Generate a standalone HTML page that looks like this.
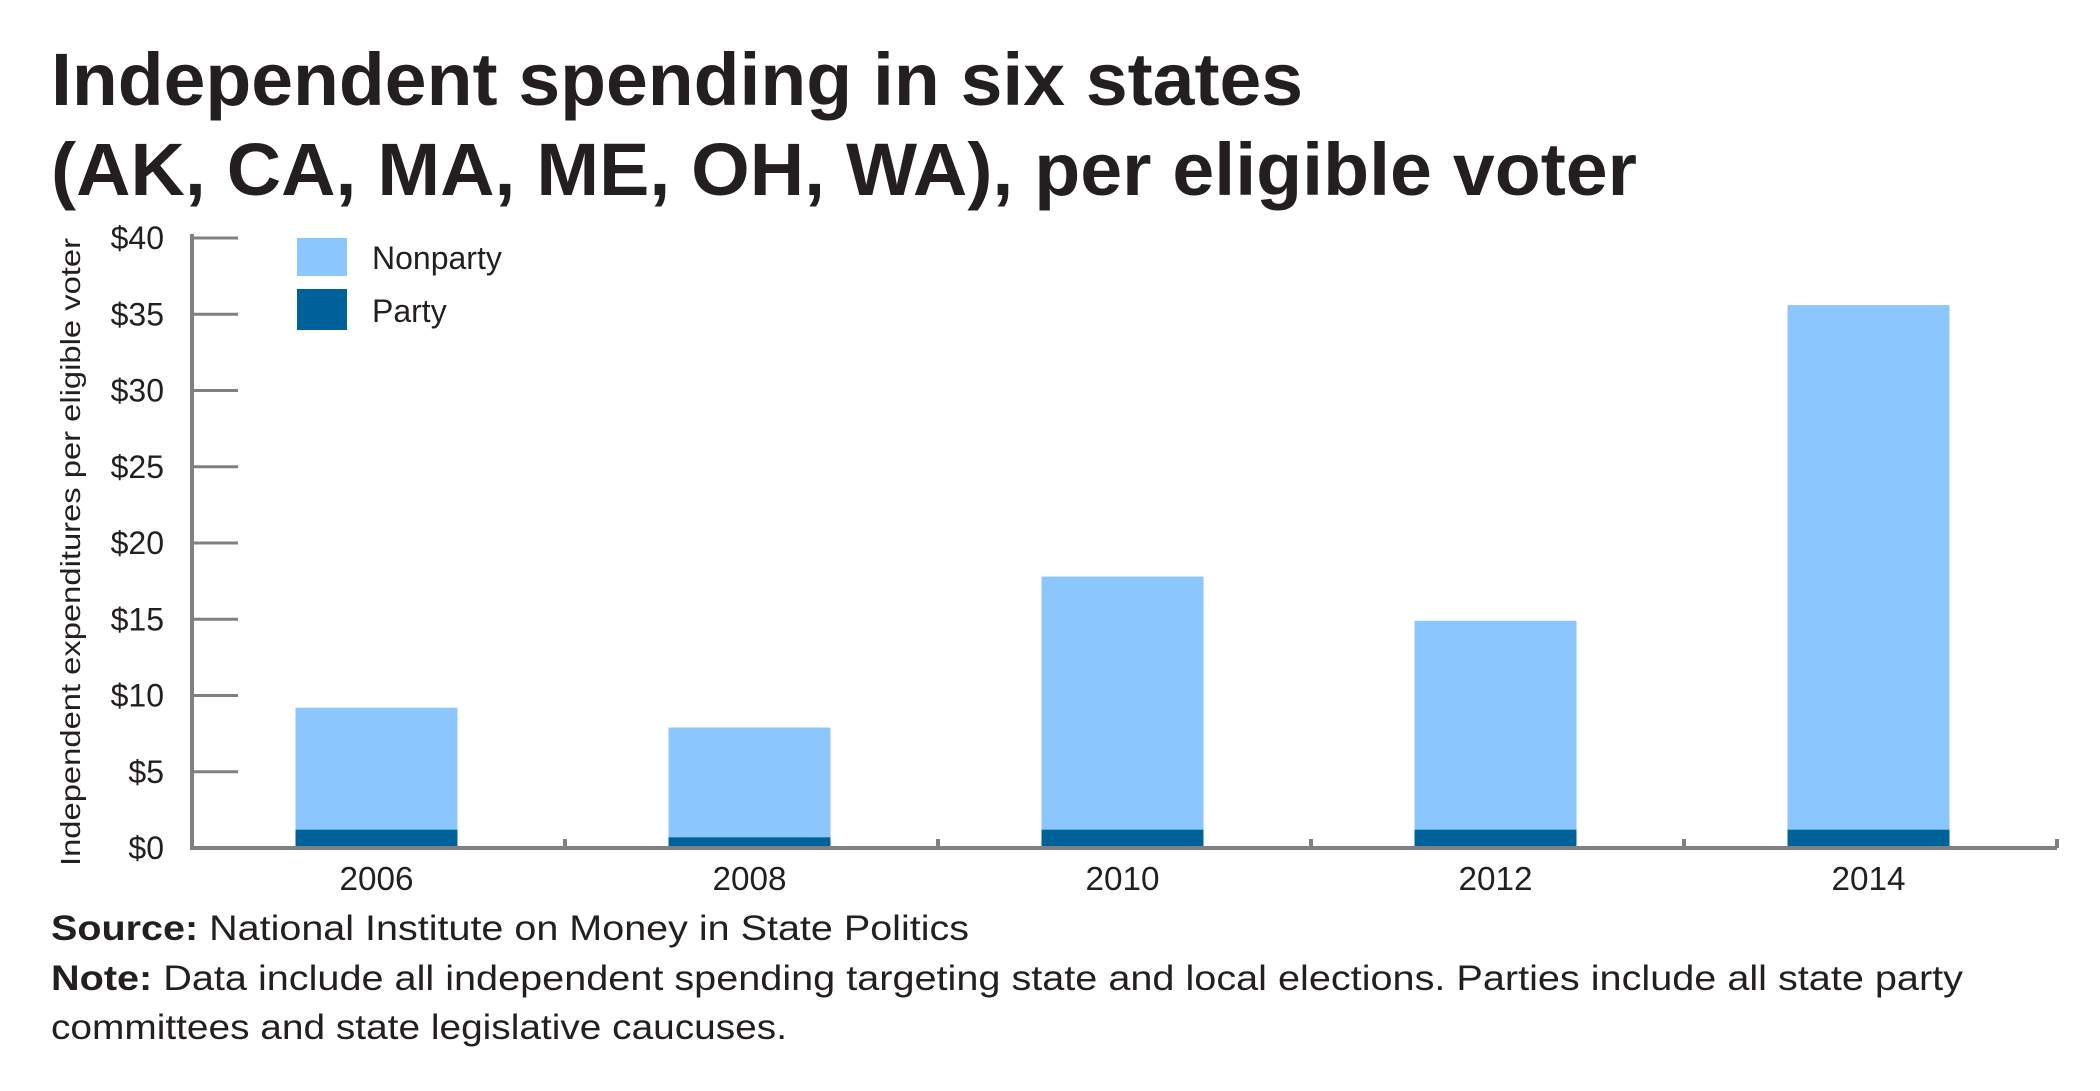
<!DOCTYPE html>
<html><head><meta charset="utf-8"><style>
html,body{margin:0;padding:0;background:#fff;}
svg{display:block;font-family:"Liberation Sans",Arial,sans-serif;}
</style></head><body>
<svg id="chart" width="2100" height="1091" viewBox="0 0 2100 1091" xmlns="http://www.w3.org/2000/svg">
<text x="51" y="105" font-size="74" font-weight="bold" fill="#231f20" textLength="1252" lengthAdjust="spacingAndGlyphs">Independent spending in six states</text>
<text x="51" y="195" font-size="74" font-weight="bold" fill="#231f20" textLength="1586" lengthAdjust="spacingAndGlyphs">(AK, CA, MA, ME, OH, WA), per eligible voter</text>
<text transform="translate(80,552) rotate(-90)" text-anchor="middle" font-size="28" fill="#231f20" textLength="628" lengthAdjust="spacingAndGlyphs">Independent expenditures per eligible voter</text>
<g id="yaxis"></g>
<g id="xaxis"></g>
<g id="bars"></g>
<g>
<rect x="297" y="238" width="50" height="38" fill="#8cc6ff"/>
<text x="372" y="269" font-size="32" fill="#231f20">Nonparty</text>
<rect x="297" y="289" width="50" height="41" fill="#00629b"/>
<text x="372" y="322" font-size="32" fill="#231f20">Party</text>
</g>
<text x="51" y="940" font-size="35" fill="#231f20" textLength="918" lengthAdjust="spacingAndGlyphs"><tspan font-weight="bold">Source:</tspan> National Institute on Money in State Politics</text>
<text x="51" y="990" font-size="35" fill="#231f20" textLength="1912" lengthAdjust="spacingAndGlyphs"><tspan font-weight="bold">Note:</tspan> Data include all independent spending targeting state and local elections. Parties include all state party</text>
<text x="51" y="1039" font-size="35" fill="#231f20" textLength="736" lengthAdjust="spacingAndGlyphs">committees and state legislative caucuses.</text>
</svg>
<script>
const years = ["2006","2008","2010","2012","2014"];
const totalValues = [9.2, 7.9, 17.8, 14.9, 35.6];
const partyValues = [1.2, 0.7, 1.2, 1.2, 1.2];
const yTicks = [0,5,10,15,20,25,30,35,40];
const yTickLabels = ["$0","$5","$10","$15","$20","$25","$30","$35","$40"];

const NS="http://www.w3.org/2000/svg";
const x0=192, x1=2057, y0=848, yTop=238, yMax=40;
function yScale(v){return y0-(v/yMax)*(y0-yTop);}
const band=(x1-x0)/years.length;
function xCenter(i){return x0+band*(i+0.5);}
const barW=162;
function mk(tag,attrs,parent){const e=document.createElementNS(NS,tag);for(const k in attrs)e.setAttribute(k,attrs[k]);parent.appendChild(e);return e;}

const ya=document.getElementById('yaxis');
let l=mk('line',{x1:x0,y1:yTop-4,x2:x0,y2:y0+2,stroke:'#808080','stroke-width':4},ya);


yTicks.forEach((v,i)=>{
  const t=mk('line',{x1:x0,y1:yScale(v),x2:238,y2:yScale(v),stroke:'#808080','stroke-width':3},ya);
  
  
  const tx=mk('text',{x:164,y:yScale(v)+11,'text-anchor':'end','font-size':32,fill:'#231f20'},ya);
  tx.textContent=yTickLabels[i];
  
  
});

const xa=document.getElementById('xaxis');
l=mk('line',{x1:x0,y1:y0,x2:x1,y2:y0,stroke:'#808080','stroke-width':4},xa);


for(let i=1;i<=years.length;i++){
  const xx=x0+band*i;
  const t=mk('line',{x1:xx,y1:y0,x2:xx,y2:y0-9,stroke:'#808080','stroke-width':4},xa);
  
  
}
years.forEach((y,i)=>{
  const tx=mk('text',{x:xCenter(i)-2,y:890,'text-anchor':'middle','font-size':33,fill:'#231f20',textLength:74,lengthAdjust:'spacingAndGlyphs'},xa);
  tx.textContent=y;
  
  
});

const bg=document.getElementById('bars');
years.forEach((y,i)=>{
  const cx=xCenter(i)-2;
  const r1=mk('rect',{x:cx-barW/2,y:yScale(totalValues[i]),width:barW,height:y0-2-yScale(totalValues[i]),fill:'#8cc6ff'},bg);
  
  
  const r2=mk('rect',{x:cx-barW/2,y:yScale(partyValues[i]),width:barW,height:y0-2-yScale(partyValues[i]),fill:'#00629b'},bg);
  
  
});
</script>
</body></html>
